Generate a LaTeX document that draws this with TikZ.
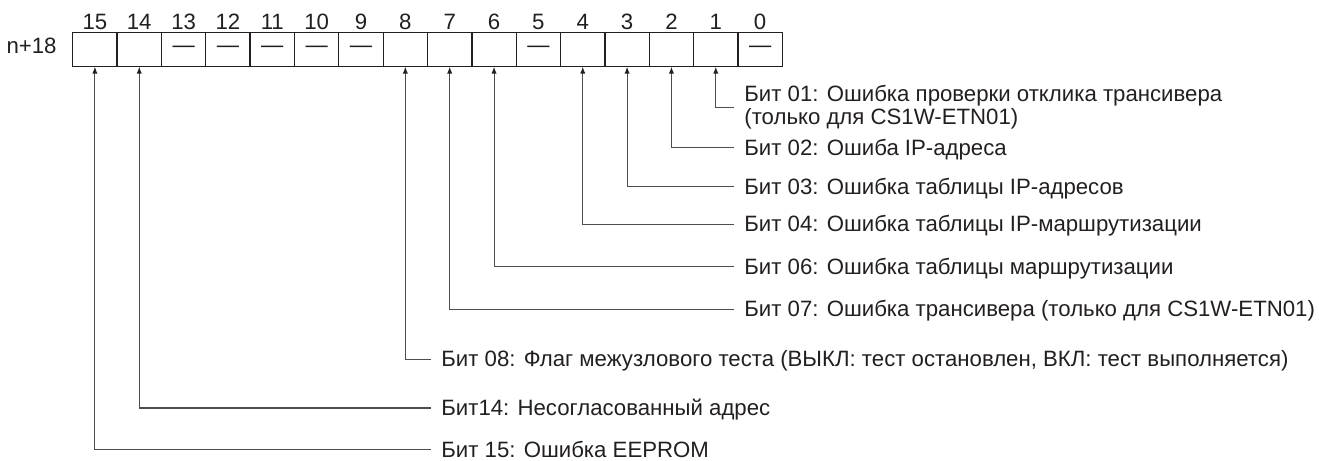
\documentclass[tikz,border=0pt]{standalone}
\usepackage{fontspec}
\setmainfont{Liberation Sans}
\usepackage{xcolor}
\usepackage{tikz}
\usetikzlibrary{arrows.meta,positioning}
\definecolor{regInk}{HTML}{231F20}
\definecolor{regLead}{HTML}{4D4D4D}
\newcommand{\regfont}{\fontsize{11.1}{10}\selectfont}
\tikzset{
  reg cell/.style={draw=regInk,line width=0.65pt,outer sep=0pt,inner sep=0pt,
    minimum width=22.175pt,minimum height=17.2pt,text=regInk,font=\regfont},
  bit number/.style={anchor=south,inner sep=0pt,yshift=1.1pt,text=regInk,font=\regfont},
  bit text/.style={anchor=west,inner xsep=5pt,inner ysep=0pt,text=regInk,font=\regfont},
  bit label/.style={bit text,text height=7.6pt,text depth=0pt},
  bit lead/.style={-{Latex[length=3.4pt,width=2.6pt,color=regInk]},draw=regLead,line width=0.55pt}
}
\begin{document}
\begin{tikzpicture}[x=0.5pt,y=-0.5pt]
\useasboundingbox (0,0) rectangle (1319,461);
% register word n+18
\node[anchor=base east,inner sep=0pt,text=regInk,font=\regfont] (word) at (57,53) {n+18};
\node[reg cell] (c15) at (94.9,49.5) {};
\node[reg cell,right=0pt of c15] (c14) {};
\node[reg cell,right=0pt of c14] (c13) {—};
\node[reg cell,right=0pt of c13] (c12) {—};
\node[reg cell,right=0pt of c12] (c11) {—};
\node[reg cell,right=0pt of c11] (c10) {—};
\node[reg cell,right=0pt of c10] (c9) {—};
\node[reg cell,right=0pt of c9] (c8) {};
\node[reg cell,right=0pt of c8] (c7) {};
\node[reg cell,right=0pt of c7] (c6) {};
\node[reg cell,right=0pt of c6] (c5) {—};
\node[reg cell,right=0pt of c5] (c4) {};
\node[reg cell,right=0pt of c4] (c3) {};
\node[reg cell,right=0pt of c3] (c2) {};
\node[reg cell,right=0pt of c2] (c1) {};
\node[reg cell,right=0pt of c1] (c0) {—};
\foreach \b in {0,...,15}
  \node[bit number] (n\b) at (c\b.north) {\b};
% bit descriptions
\node[bit text,align=left] (l01) at (734,107.3) {Бит 01: Ошибка проверки отклика трансивера\\(только для CS1W-ETN01)};
\node[bit label] (l02) at (734,147.7) {Бит 02: Ошиба IP-адреса};
\node[bit label] (l03) at (734,186.7) {Бит 03: Ошибка таблицы IP-адресов};
\node[bit label] (l04) at (734,224.3) {Бит 04: Ошибка таблицы IP-маршрутизации};
\node[bit label] (l06) at (734,266.7) {Бит 06: Ошибка таблицы маршрутизации};
\node[bit label] (l07) at (734,309.3) {Бит 07: Ошибка трансивера (только для CS1W-ETN01)};
\node[bit label] (l08) at (431,359.3) {Бит 08: Флаг межузлового теста (ВЫКЛ: тест остановлен, ВКЛ: тест выполняется)};
\node[bit label] (l14) at (431,408) {Бит14: Несогласованный адрес};
\node[bit label] (l15) at (431,449.5) {Бит 15: Ошибка EEPROM};
\draw[bit lead] (l01.west) -| (c1.south);
\draw[bit lead] (l02.west) -| (c2.south);
\draw[bit lead] (l03.west) -| (c3.south);
\draw[bit lead] (l04.west) -| (c4.south);
\draw[bit lead] (l06.west) -| (c6.south);
\draw[bit lead] (l07.west) -| (c7.south);
\draw[bit lead] (l08.west) -| (c8.south);
\draw[bit lead] (l14.west) -| (c14.south);
\draw[bit lead] (l15.west) -| (c15.south);
\end{tikzpicture}
\end{document}
